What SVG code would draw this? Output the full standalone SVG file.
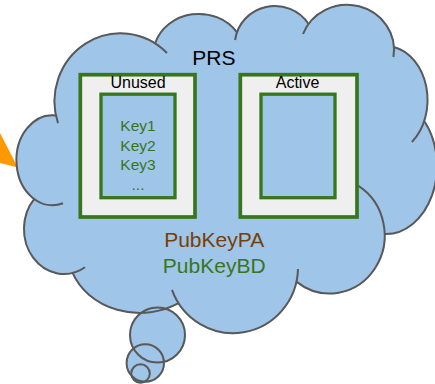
<svg xmlns="http://www.w3.org/2000/svg" width="435" height="384" viewBox="0 0 435 384">
<style>
.cf{fill:#9fc5e8;stroke:#9fc5e8;stroke-width:1.2;stroke-linejoin:round}
.cs{fill:none;stroke:#595959;stroke-width:2}
.outer{fill:#efefef;stroke:#38761d;stroke-width:3.7}
.inner{fill:#9fc5e8;stroke:#38761d;stroke-width:3.3}
text{font-family:"Liberation Sans",Arial,sans-serif;text-anchor:middle}
.title{font-size:21px;fill:#000}
.lbl{font-size:16px;fill:#000}
.key{font-size:15.5px;fill:#38761d}
.pa{font-size:21px;fill:#783f04}
.bd{font-size:21px;fill:#38761d}
</style>
<defs>
<path id="l1" d="M63,203.2 A36,45 0 1 1 56,115.4"/>
<path id="l2" d="M58,123.1 A66,68 0 0 1 167,53"/>
<path id="l3" d="M155,43.5 A46,42 0 0 1 237,32.3"/>
<path id="l4" d="M235.1,40 A40,39 0 0 1 308.5,24"/>
<path id="l5" d="M303,34 A47,45 0 0 1 393.4,57"/>
<path id="l6" d="M393.7,47 A42,54 0 0 1 411.9,142"/>
<path id="l7" d="M424.2,121 A51,68 0 0 1 384,234"/>
<path id="l8" d="M358,185.7 A55,58 0 1 1 296.4,281.6"/>
<path id="l9" d="M298,269 A65,66 0 0 1 172,289.8"/>
<path id="l10" d="M178.6,303.2 A72,62 0 0 1 72.6,272.9"/>
<path id="l11" d="M85,267.3 A40,45 0 0 1 34.5,198.6"/>
<circle id="t1" cx="157.5" cy="335" r="27.5"/>
<circle id="t2" cx="145.3" cy="363" r="18.7"/>
<circle id="t3" cx="140.5" cy="373.5" r="9.3"/>
</defs>
<g id="connectors">
<polygon points="0,133 17.8,167.5 0,163" fill="#ff9900"/>
</g>
<g id="prs">
<g class="cf">
<polygon points="56,115.4 155,43.5 237,32.3 308.5,24 393.7,47 424.2,121 384,234 296.4,281.6 178.6,303.2 72.6,272.9 34.5,198.6"/>
<use href="#l1"/><use href="#l2"/><use href="#l3"/><use href="#l4"/><use href="#l5"/><use href="#l6"/>
<use href="#l7"/><use href="#l8"/><use href="#l9"/><use href="#l10"/><use href="#l11"/>
<use href="#t1"/><use href="#t2"/><use href="#t3"/>
</g>
<g class="cs">
<use href="#l1"/><use href="#l2"/><use href="#l3"/><use href="#l4"/><use href="#l5"/><use href="#l6"/>
<use href="#l7"/><use href="#l8"/><use href="#l9"/><use href="#l10"/><use href="#l11"/>
<use href="#t1"/><use href="#t2"/><use href="#t3"/>
</g>
<text class="title" x="213.8" y="65">PRS</text>
<text class="pa" x="214.2" y="246.7">PubKeyPA</text>
<text class="bd" x="214.2" y="272.7">PubKeyBD</text>
</g>
<g id="unused">
<rect class="outer" x="80.3" y="74.7" width="114.7" height="142.3"/>
<text class="lbl" x="138" y="88.3">Unused</text>
<rect class="inner" x="101" y="94.2" width="74" height="103.5"/>
<text class="key" x="138" y="131">Key1</text>
<text class="key" x="138" y="150.5">Key2</text>
<text class="key" x="138" y="170">Key3</text>
<text class="key" x="138" y="189.5">...</text>
</g>
<g id="active">
<rect class="outer" x="240.3" y="74.7" width="116.7" height="142.3"/>
<text class="lbl" x="297.5" y="88.3">Active</text>
<rect class="inner" x="261" y="94.2" width="74" height="103.5"/>
</g>
</svg>
